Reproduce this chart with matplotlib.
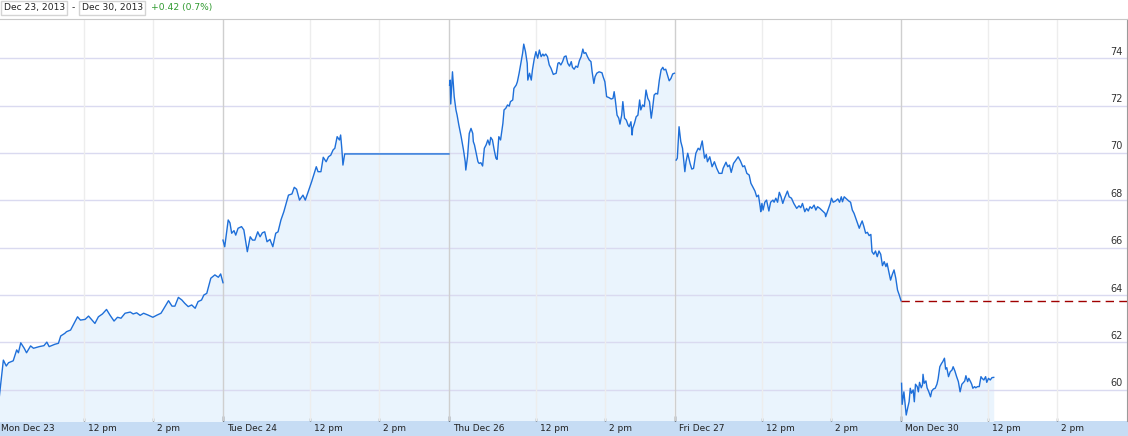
import matplotlib
matplotlib.use('Agg')
import matplotlib.pyplot as plt
from matplotlib.patches import Rectangle
from matplotlib.transforms import ScaledTranslation, blended_transform_factory
import numpy as np

# Intraday price chart, Dec 23 - Dec 30 2013 (trading time axis, 9:30-16:00 per session)
DAY_MIN = 390

day_labels = ['Mon Dec 23', 'Tue Dec 24', 'Thu Dec 26', 'Fri Dec 27', 'Mon Dec 30']
hour_labels = ['12 pm', '2 pm']
hour_offsets = [150, 270]  # minutes after the open
y_ticks = [60, 62, 64, 66, 68, 70, 72, 74]
prev_close = 63.76

range_start = 'Dec 23, 2013'
range_end = 'Dec 30, 2013'
range_change = '+0.42 (0.7%)'

# minutes after open / price
mon23_min = [4, 11, 16, 20, 28, 34, 37, 41, 47, 51, 58, 63, 73, 81, 86, 90, 100, 106, 110, 117,
             120, 127, 133, 139, 144, 152, 158, 163, 169, 175, 182, 189, 195, 202, 208, 214, 221, 230,
             235, 241, 247, 253, 261, 269, 276, 283, 287, 296, 302, 307, 313, 319, 324, 330, 336, 342,
             347, 353, 357, 362, 369, 376, 382, 386, 390]
mon23_px = [59.70, 61.25, 61.00, 61.14, 61.22, 61.68, 61.56, 61.98, 61.75, 61.56, 61.85, 61.75, 61.82,
            61.86, 62.01, 61.82, 61.92, 61.96, 62.27, 62.38, 62.45, 62.52, 62.80, 63.08, 62.94, 62.97,
            63.11, 62.97, 62.80, 63.08, 63.20, 63.39, 63.15, 62.90, 63.06, 63.02, 63.23, 63.28, 63.20,
            63.25, 63.14, 63.23, 63.15, 63.06, 63.15, 63.23, 63.39, 63.76, 63.53, 63.53, 63.90, 63.79,
            63.65, 63.51, 63.58, 63.44, 63.72, 63.79, 64.00, 64.07, 64.71, 64.85, 64.75, 64.89, 64.52]

# half session: last trade ~1 pm, then carried flat to the end of the day
tue24_min = [0, 3, 9, 12, 15, 19, 22, 26, 32, 36, 42, 47, 51, 55, 60, 64, 68, 72, 76, 81, 86, 91,
             95, 100, 105, 113, 119, 123, 127, 132, 138, 142, 147, 153, 161, 164, 169, 173, 178, 182,
             186, 190, 193, 197, 201, 203, 205, 207, 210, 390]
tue24_px = [66.32, 66.04, 67.17, 67.05, 66.61, 66.72, 66.53, 66.82, 66.89, 66.75, 65.83, 66.46, 66.32,
            66.32, 66.67, 66.46, 66.63, 66.67, 66.25, 66.35, 66.04, 66.61, 66.67, 67.17, 67.52, 68.22,
            68.27, 68.55, 68.47, 68.01, 68.22, 68.01, 68.36, 68.79, 69.42, 69.21, 69.21, 69.82, 69.63,
            69.84, 69.91, 70.13, 70.20, 70.69, 70.55, 70.76, 70.20, 69.49, 69.96, 69.96]

thu26_min = [1, 2, 3, 6, 9, 12, 14, 17, 21, 25, 28, 29, 32, 35, 38, 41, 42, 44, 47, 50, 52, 55, 58,
             61, 64, 67, 70, 72, 75, 78, 81, 83, 86, 89, 93, 95, 98, 101, 104, 106, 110, 112, 116, 118,
             121, 124, 127, 129, 132, 135, 136, 139, 142, 144, 147, 150, 153, 156, 159, 162, 164, 167,
             170, 173, 176, 180, 185, 188, 190, 193, 196, 199, 202, 205, 208, 211, 213, 216, 219, 222,
             225, 228, 231, 233, 236, 239, 242, 245, 247, 250, 252, 255, 259, 264, 266, 269, 272, 276,
             280, 283, 285, 287, 290, 293, 295, 298, 300, 303, 306, 309, 311, 314, 316, 317, 320, 323,
             326, 329, 331, 334, 337, 340, 343, 346, 349, 351, 354, 357, 360, 363, 366, 369, 371, 374,
             377, 380, 383, 386, 389]
thu26_px = [72.87, 73.08, 72.07, 73.43, 72.38, 71.82, 71.60, 71.18, 70.69, 70.13, 69.63, 69.28, 69.84,
            70.83, 71.04, 70.83, 70.48, 70.34, 69.99, 69.63, 69.56, 69.59, 69.45, 70.20, 70.34, 70.55,
            70.34, 70.66, 70.55, 70.13, 69.78, 69.73, 70.69, 70.55, 71.25, 71.82, 71.89, 72.03, 71.98,
            72.17, 72.24, 72.73, 72.87, 73.01, 73.37, 73.79, 74.21, 74.60, 74.28, 73.79, 73.08, 73.37,
            73.08, 73.51, 73.96, 74.28, 74.00, 74.35, 74.07, 74.18, 74.10, 74.18, 74.07, 73.72, 73.58,
            73.32, 73.37, 73.79, 73.82, 73.72, 73.86, 74.07, 74.10, 73.79, 73.67, 73.86, 73.62, 73.54,
            73.67, 73.62, 73.90, 74.07, 74.39, 74.21, 74.24, 74.07, 73.93, 73.86, 73.43, 72.94, 73.22,
            73.37, 73.43, 73.39, 73.22, 73.01, 72.38, 72.34, 72.28, 72.31, 72.59, 72.24, 71.60, 71.47,
            71.22, 71.60, 72.17, 71.47, 71.39, 71.18, 71.11, 71.32, 70.76, 71.04, 71.25, 71.53, 71.60,
            72.24, 71.82, 72.03, 71.96, 72.66, 72.31, 72.17, 71.47, 71.82, 72.45, 72.52, 72.49, 73.08,
            73.51, 73.62, 73.51, 73.54, 73.29, 73.05, 73.15, 73.34, 73.37]

fri27_min = [2, 4, 7, 10, 13, 17, 19, 22, 26, 29, 32, 36, 40, 43, 47, 51, 54, 56, 60, 64, 68, 72, 76,
             81, 83, 88, 91, 94, 97, 101, 104, 109, 113, 117, 120, 124, 128, 131, 134, 138, 141, 144,
             147, 148, 150, 152, 155, 158, 162, 165, 169, 171, 174, 177, 180, 183, 186, 189, 194, 197,
             201, 205, 210, 214, 217, 220, 224, 227, 230, 233, 236, 240, 243, 246, 250, 253, 256, 259,
             260, 264, 268, 270, 273, 277, 281, 284, 287, 289, 292, 296, 300, 303, 306, 309, 312, 315,
             318, 320, 323, 326, 329, 332, 335, 338, 340, 343, 346, 349, 352, 355, 358, 361, 364, 366,
             369, 372, 375, 378, 381, 384, 387, 390]
fri27_px = [69.70, 69.78, 71.11, 70.48, 70.20, 69.21, 69.63, 69.99, 69.56, 69.32, 69.35, 69.99, 70.20,
            70.13, 70.51, 69.78, 69.94, 69.63, 69.84, 69.42, 69.63, 69.35, 69.14, 69.14, 69.35, 69.61,
            69.42, 69.49, 69.18, 69.56, 69.66, 69.84, 69.66, 69.42, 69.46, 69.14, 69.07, 68.72, 68.58,
            68.39, 68.15, 68.22, 67.73, 67.52, 67.87, 67.59, 67.92, 68.01, 67.55, 67.92, 68.01, 67.92,
            68.09, 67.92, 68.34, 68.15, 67.87, 68.09, 68.39, 68.15, 68.09, 67.87, 67.66, 67.77, 67.69,
            67.87, 67.52, 67.66, 67.55, 67.73, 67.66, 67.80, 67.59, 67.73, 67.66, 67.59, 67.52, 67.45,
            67.31, 67.59, 67.87, 68.09, 67.92, 67.97, 68.06, 67.92, 68.15, 67.94, 68.15, 68.06, 67.97,
            67.92, 67.59, 67.45, 67.24, 67.03, 66.82, 66.96, 67.13, 66.89, 66.61, 66.65, 66.51, 66.56,
            65.83, 65.72, 65.86, 65.62, 65.86, 65.72, 65.24, 65.41, 65.20, 65.34, 64.98, 64.63, 64.87,
            65.06, 64.71, 64.21, 64.00, 63.76]

mon30_min = [1, 2, 5, 7, 9, 12, 14, 16, 18, 21, 23, 25, 28, 30, 32, 35, 37, 38, 40, 43, 45, 48, 51,
             53, 56, 59, 62, 64, 67, 70, 72, 75, 77, 79, 82, 85, 88, 90, 93, 96, 99, 102, 105, 108, 110,
             112, 115, 117, 120, 122, 124, 127, 129, 132, 135, 138, 140, 143, 146, 148, 151, 154, 157,
             160]
mon30_px = [60.27, 59.38, 59.91, 59.42, 58.93, 59.28, 59.49, 60.06, 59.85, 59.99, 59.49, 60.23, 60.13,
            59.91, 60.31, 60.08, 60.20, 60.65, 60.27, 60.37, 60.08, 59.91, 59.70, 59.94, 60.03, 60.06,
            60.23, 60.45, 60.97, 61.11, 61.18, 61.33, 60.87, 60.93, 60.55, 60.76, 60.83, 60.97, 60.79,
            60.55, 60.34, 59.91, 60.23, 60.31, 60.37, 60.59, 60.34, 60.48, 60.34, 60.23, 60.06, 60.13,
            60.08, 60.13, 60.13, 60.55, 60.48, 60.41, 60.55, 60.31, 60.48, 60.41, 60.51, 60.52]

sessions = [(mon23_min, mon23_px), (tue24_min, tue24_px), (thu26_min, thu26_px),
            (fri27_min, fri27_px), (mon30_min, mon30_px)]

W, H = 1128, 436
LINE = '#1e6fd9'
FILL = '#eaf4fd'

fig = plt.figure(figsize=(W / 100, H / 100), dpi=100)
ax_top, ax_bot = 19.5, 420.7
ax = fig.add_axes([0, (H - ax_bot) / H, 1127 / W, (ax_bot - ax_top) / H])
ax.set_xlim(5.2, len(day_labels) * DAY_MIN)
ax.set_ylim(58.69, 75.64)

# grid
for v in y_ticks:
    ax.axhline(v, color='#dadaf0', lw=1, zorder=2)
for d in range(len(day_labels)):
    if d > 0:
        ax.axvline(d * DAY_MIN, color='#cfcfcf', lw=1, zorder=2)
    for h in hour_offsets:
        ax.axvline(d * DAY_MIN + h, color='#ededed', lw=1, zorder=2)

# price line and area, one piece per session
for d, (t, p) in enumerate(sessions):
    x = d * DAY_MIN + np.array(t)
    ax.fill_between(x, p, 50, color=FILL, lw=0, zorder=1)
    ax.plot(x, p, color=LINE, lw=1.0, zorder=3)

# previous close
ax.hlines(prev_close, (len(day_labels) - 1) * DAY_MIN, len(day_labels) * DAY_MIN,
          colors='#a00000', linestyles=(0, (6, 3.8)), lw=1, zorder=4)

# spines
for s in ['left', 'bottom']:
    ax.spines[s].set_visible(False)
ax.spines['top'].set_color('#c8c8c8')
ax.spines['right'].set_color('#9a9a9a')

# ticks
ax.set_yticks([])
ax.set_xticks([d * DAY_MIN for d in range(1, len(day_labels))])
ax.set_xticks([d * DAY_MIN + h for d in range(len(day_labels)) for h in hour_offsets], minor=True)
ax.tick_params(axis='x', which='major', direction='in', length=3.6, width=1, color='#222222',
               labelbottom=False, zorder=5)
ax.tick_params(axis='x', which='minor', direction='in', length=2, width=1, color='#666666')

# axis band with labels
fig.add_artist(Rectangle((0, 0), 1, (H - ax_bot) / H, transform=fig.transFigure,
                         facecolor='#c6dcf4', edgecolor='none', zorder=-1))
xlab = ax.get_xaxis_transform() + ScaledTranslation(4 / 100, -7.3 / 100, fig.dpi_scale_trans)
for d, lab in enumerate(day_labels):
    ax.text(d * DAY_MIN, 0, lab, transform=xlab, ha='left', va='center', fontsize=6.5,
            color='#222222', clip_on=False)
    for h, hl in zip(hour_offsets, hour_labels):
        ax.text(d * DAY_MIN + h, 0, hl, transform=xlab, ha='left', va='center', fontsize=6.5,
                color='#222222', clip_on=False)

ylab = blended_transform_factory(ax.transAxes, ax.transData) + \
    ScaledTranslation(-4 / 100, 1.5 / 100, fig.dpi_scale_trans)
for v in y_ticks:
    ax.text(1, v, str(v), transform=ylab, ha='right', va='bottom', fontsize=7, color='#333333')

# header: date range boxes and change
for x0, x1 in [(1, 66.7), (79.3, 145)]:
    fig.add_artist(Rectangle((x0 / W, 1 - 15 / H), (x1 - x0) / W, 14.3 / H,
                             transform=fig.transFigure, fill=False, edgecolor='#d4d4d4', lw=1))
fig.text(3.5 / W, 1 - 7.6 / H, range_start, ha='left', va='center', fontsize=6.6, color='#222222')
fig.text(73.5 / W, 1 - 7.6 / H, '-', ha='center', va='center', fontsize=6.6, color='#222222')
fig.text(81.8 / W, 1 - 7.6 / H, range_end, ha='left', va='center', fontsize=6.6, color='#222222')
fig.text(151 / W, 1 - 7.6 / H, range_change, ha='left', va='center', fontsize=6.6, color='#2f9a2f')

plt.savefig('out.png', dpi=100)
